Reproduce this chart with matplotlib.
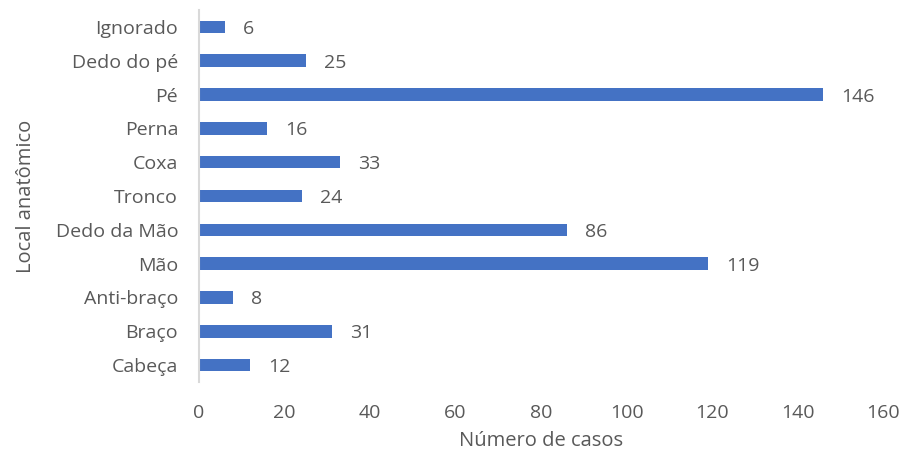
import matplotlib.pyplot as plt

plt.rcParams['font.family'] = ['Open Sans', 'DejaVu Sans']

locais = ["Cabeça", "Braço", "Anti-braço", "Mão", "Dedo da Mão", "Tronco",
          "Coxa", "Perna", "Pé", "Dedo do pé", "Ignorado"]
casos = [12, 31, 8, 119, 86, 24, 33, 16, 146, 25, 6]

texto = "#595959"
azul = "#4472C4"


def main():
    fig = plt.figure(figsize=(9.06, 4.54), dpi=100)
    ax = fig.add_axes([199 / 906, 1 - 382 / 454, 684 / 906, 372 / 454])

    pos = range(len(locais))
    ax.barh(pos, casos, height=0.37, color=azul)
    for y, v in zip(pos, casos):
        ax.annotate(str(v), (v, y), xytext=(13, 0), textcoords="offset points",
                    va="center_baseline", ha="left", fontsize=14, color=texto)

    ax.set_xlim(0, 160)
    ax.set_ylim(-0.5, len(locais) - 0.5)
    ax.set_xticks(range(0, 161, 20))
    ax.set_yticks(list(pos))
    ax.set_yticklabels(locais)
    ax.tick_params(axis="both", length=0, labelsize=14, labelcolor=texto)
    ax.tick_params(axis="x", pad=16)
    ax.tick_params(axis="y", pad=15)

    for s in ["top", "right", "bottom"]:
        ax.spines[s].set_visible(False)
    ax.spines["left"].set_color("#d9d9d9")
    ax.spines["left"].set_linewidth(1.5)

    ax.set_xlabel("Número de casos", fontsize=14.5, color=texto, labelpad=6)
    ax.set_ylabel("Local anatômico", fontsize=14.5, color=texto, labelpad=14)

    fig.savefig("out.png", dpi=100)


if __name__ == "__main__":
    main()
